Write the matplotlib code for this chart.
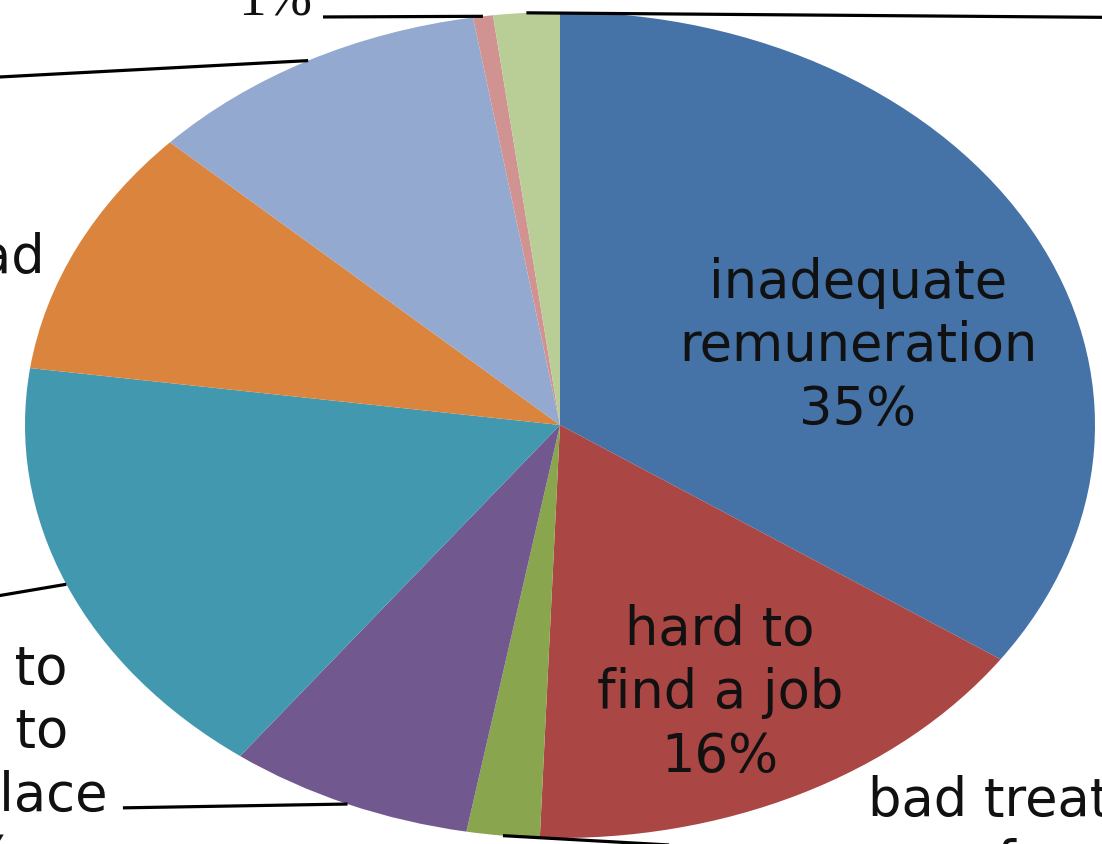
import numpy as np
import matplotlib.pyplot as plt

# reasons, clockwise from 12 o'clock
reasons = ['inadequate\nremuneration', 'hard to\nfind a job', 'bad treatment\nfrom\nemployer',
           'hard to\nwalk to\nworkplace', 'lack of\nexperience', 'intend to\nwork abroad',
           'family\nreasons', 'other', 'health\nproblems']
shares = [34.6, 16.0, 2.2, 7.4, 17.0, 9.8, 10.4, 0.6, 2.0]
colors = ['#4572A7', '#AA4643', '#89A54E', '#71588F', '#4198AF',
          '#DB843D', '#93A9CF', '#D19392', '#B9CD96']

# label anchor (data coords), horizontal alignment, outer end of leader line
label_xy = [(0.557, 0.191), (0.299, -0.649), (0.576, -1.14), (-0.845, -0.821),
            (-1.18, -0.44), (-0.963, 0.404), (-1.18, 0.84), (-0.4636, 0.966), (1.14, 0.99)]
label_ha = ['center', 'center', 'left', 'right', 'right', 'right', 'right', 'right', 'left']
leader_end = [None, None, (0.561, -1.043), (-0.817, -0.927), (-1.159, -0.4375),
              None, (-1.159, 0.835), (-0.443, 0.988), (1.121, 0.986)]

fig = plt.figure(figsize=(11.02, 8.44), dpi=100)
ax = fig.add_axes([0, 0, 1, 1])

wedges, _ = ax.pie(shares, colors=colors, startangle=90, counterclock=False,
                   radius=1, wedgeprops=dict(linewidth=0))

for i, w in enumerate(wedges):
    pct = f"{round(shares[i]):.0f}%"
    if leader_end[i] is not None:
        mid = np.deg2rad((w.theta1 + w.theta2) / 2)
        x0, y0 = np.cos(mid), np.sin(mid)
        ax.plot([x0, leader_end[i][0]], [y0, leader_end[i][1]], color='black', lw=2.3,
                solid_capstyle='butt', clip_on=False)
    x, y = label_xy[i]
    if reasons[i] == 'other':
        ax.text(x, y, reasons[i] + '\n' + pct, ha='right', va='bottom', ma='right',
                fontsize=40, family='Liberation Serif', color='#111111', linespacing=1.0)
    else:
        ax.text(x, y, reasons[i] + '\n' + pct, ha=label_ha[i], va='center', ma='center',
                fontsize=38, family='DejaVu Sans', color='#111111', linespacing=1.28)

ax.set_xlim(-560 / 535, 542 / 535)
ax.set_ylim(-419 / 413, 425 / 413)
ax.set_aspect('auto')
ax.axis('off')

fig.savefig('out.png', dpi=100)
